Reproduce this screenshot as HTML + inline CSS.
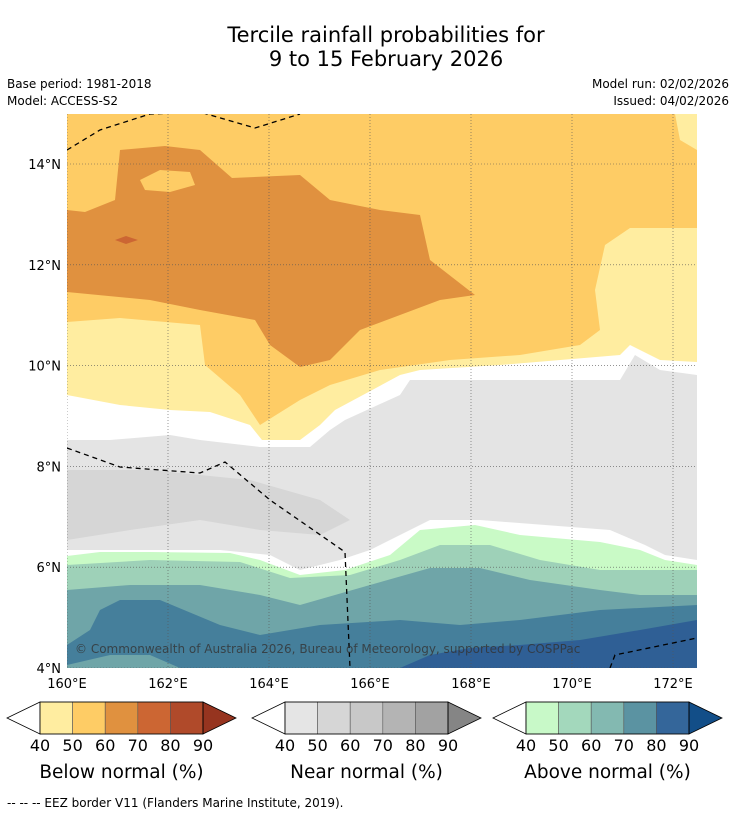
<!DOCTYPE html>
<html><head><meta charset="utf-8"><style>
body{margin:0;background:#fff;width:736px;height:816px;overflow:hidden;font-family:"DejaVu Sans","Liberation Sans",sans-serif}
svg{display:block}
</style></head><body>
<svg id="chart" width="736" height="816" viewBox="0 0 736 816" xmlns="http://www.w3.org/2000/svg" font-family="DejaVu Sans, Liberation Sans, sans-serif">
<text x="386" y="42" font-size="21" text-anchor="middle">Tercile rainfall probabilities for</text>
<text x="386" y="66" font-size="21" text-anchor="middle">9 to 15 February 2026</text>
<text x="7" y="88" font-size="12">Base period: 1981-2018</text>
<text x="7" y="105" font-size="12">Model: ACCESS-S2</text>
<text x="729" y="88" font-size="12" text-anchor="end">Model run: 02/02/2026</text>
<text x="729" y="105" font-size="12" text-anchor="end">Issued: 04/02/2026</text>
<clipPath id="mapclip"><rect x="67" y="114" width="630" height="554"/></clipPath>
<g id="map" clip-path="url(#mapclip)"></g>
<g id="axes"></g>
<g id="bars"></g>
<text x="7" y="807" font-size="12">--  --  -- EEZ border V11 (Flanders Marine Institute, 2019).</text>
</svg>
<script>
// Axis ranges
const lonTicks=[160,162,164,166,168,170,172];
const latTicks=[4,6,8,10,12,14];
const lonTickLabels=["160°E","162°E","164°E","166°E","168°E","170°E","172°E"];
const latTickLabels=["4°N","6°N","8°N","10°N","12°N","14°N"];
// Contour regions (pixel-estimated outlines expressed in lon/lat), painted in order
const regionColors=["#FFEDA0","#FECC65","#E0913F","#FECC65","#CC6633","#E4E4E4","#D6D6D6","#C9FAC6","#9ED1B8","#6FA5A8","#457F9B","#2F5F95"];
const regionNames=["below-40-50","below-50-60","below-60-70","below-50-60-island","below-70-80","near-40-50","near-50-60","above-40-50","above-50-60","above-60-70","above-70-80","above-80-90"];
const px=[
 [[67,114],[697,114],[697,362],[660,360],[630,345],[620,355],[500,365],[420,370],[400,375],[335,410],[320,425],[300,440],[262,440],[250,425],[210,412],[170,410],[120,405],[67,395]],
 [[67,114],[675,114],[680,140],[697,150],[697,228],[630,228],[605,245],[595,290],[600,330],[580,345],[520,355],[450,360],[380,370],[330,385],[300,400],[260,425],[240,395],[205,365],[200,325],[120,318],[67,322]],
 [[67,210],[85,212],[115,200],[120,150],[165,146],[200,150],[232,178],[300,175],[330,200],[380,210],[420,215],[430,260],[475,295],[440,300],[400,315],[360,330],[330,360],[300,367],[270,345],[255,320],[200,310],[150,300],[67,292]],
 [[140,180],[160,170],[190,172],[195,185],[170,192],[145,190]],
 [[115,240],[126,236],[138,240],[126,244]],
 [[67,440],[110,440],[170,435],[200,440],[260,447],[310,447],[330,430],[345,420],[400,395],[410,380],[620,380],[635,355],[660,370],[697,375],[697,560],[665,555],[645,545],[610,530],[480,520],[430,520],[400,535],[370,550],[340,560],[300,570],[270,555],[220,550],[67,550]],
 [[67,470],[150,470],[250,480],[320,500],[350,520],[320,535],[260,530],[200,520],[130,530],[67,540]],
 [[67,556],[100,552],[150,552],[230,553],[260,560],[300,575],[345,570],[390,555],[420,530],[475,525],[520,535],[600,542],[640,550],[665,560],[697,565],[697,668],[67,668]],
 [[67,565],[150,560],[240,562],[290,578],[350,575],[400,560],[440,545],[490,545],[540,560],[600,570],[697,570],[697,668],[67,668]],
 [[67,590],[130,585],[200,585],[260,595],[300,605],[370,585],[430,568],[480,568],[530,580],[600,590],[640,595],[697,595],[697,668],[67,668]],
 [[67,645],[90,630],[100,610],[120,600],[160,600],[220,625],[260,635],[320,625],[400,620],[460,625],[520,620],[560,615],[600,610],[697,605],[697,668],[180,668],[150,655],[110,655],[67,665]],
 [[400,668],[430,655],[470,648],[520,645],[580,640],[640,630],[697,620],[697,668]]
];
const eezLines=[
 [[67,150],[100,130],[150,114],[200,112],[255,128],[300,114]],
 [[67,448],[120,467],[200,473],[225,462],[270,500],[345,552],[350,668]],
 [[610,668],[615,655],[697,638]]
];
// axis functions
const X=lon=>67+(lon-160)*50.5;
const Y=lat=>668-(lat-4)*50.4;
const toLL=p=>[160+(p[0]-67)/50.5,4+(668-p[1])/50.4];
const NS="http://www.w3.org/2000/svg";
const mk=(t,a,par)=>{const e=document.createElementNS(NS,t);for(const k in a)e.setAttribute(k,a[k]);par.appendChild(e);return e;};
const map=document.getElementById('map');
mk('rect',{x:67,y:114,width:630,height:554,fill:'#fff'},map);
px.forEach((poly,i)=>{
 const pts=poly.map(toLL).map(ll=>X(ll[0]).toFixed(1)+','+Y(ll[1]).toFixed(1)).join(' ');
 const el=mk('polygon',{points:pts,fill:regionColors[i]},map);
 
 
});
// grid
lonTicks.forEach(l=>{const g=mk('line',{x1:X(l),x2:X(l),y1:114,y2:668,stroke:'#555','stroke-width':0.6,'stroke-dasharray':'1,2'},map);
 
 });
latTicks.forEach(l=>{const g=mk('line',{x1:67,x2:697,y1:Y(l),y2:Y(l),stroke:'#555','stroke-width':0.6,'stroke-dasharray':'1,2'},map);
 
 });
eezLines.forEach(line=>{const e=mk('polyline',{points:line.map(toLL).map(ll=>X(ll[0])+','+Y(ll[1])).join(' '),fill:'none',stroke:'#000','stroke-width':1.3,'stroke-dasharray':'5,4'},map);
 
 });
const cp=mk('text',{x:75,y:653,'font-size':12,fill:'#333','fill-opacity':0.8},map);
cp.textContent='© Commonwealth of Australia 2026, Bureau of Meteorology, supported by COSPPac';


const ax=document.getElementById('axes');
lonTicks.forEach((l,i)=>{const t=mk('text',{x:X(l),y:688,'font-size':13,'text-anchor':'middle'},ax);t.textContent=lonTickLabels[i];
 
 });
latTicks.forEach((l,i)=>{const t=mk('text',{x:61,y:Y(l)+5,'font-size':13,'text-anchor':'end'},ax);t.textContent=latTickLabels[i];
 
 });
// colorbars
const cbColors=[["#FFEDA0","#FECC65","#E0913F","#CC6633","#B04A2A","#96341F"],["#E5E5E5","#D6D6D6","#C8C8C8","#B4B4B4","#A2A2A2","#858585"],["#C8F9C8","#A3D8BC","#83B9B1","#5B93A2","#34669A","#124E88"]];
const cbTitles=["Below normal (%)","Near normal (%)","Above normal (%)"];
const cbTicks=["40","50","60","70","80","90"];
const cbStart=[40,285,526];
const bars=document.getElementById('bars');
cbStart.forEach((x0,b)=>{
 const w=32.6,y0=702,y1=734,ym=718,x1=x0+5*w;
 const g=mk('g',{},bars);
 
 
 mk('polygon',{points:`${x0},${y0} ${x0-33},${ym} ${x0},${y1}`,fill:'#fff',stroke:'#000','stroke-width':0.8},g);
 for(let i=0;i<5;i++)mk('rect',{x:x0+i*w,y:y0,width:w,height:y1-y0,fill:cbColors[b][i],stroke:'#555','stroke-width':0.6},g);
 mk('polygon',{points:`${x1},${y0} ${x1+33},${ym} ${x1},${y1}`,fill:cbColors[b][5],stroke:'#000','stroke-width':0.8},g);
 mk('rect',{x:x0,y:y0,width:5*w,height:y1-y0,fill:'none',stroke:'#000','stroke-width':0.8},g);
 cbTicks.forEach((t,i)=>{const e=mk('text',{x:x0+i*w,y:751,'font-size':16,'text-anchor':'middle'},g);e.textContent=t;});
 const tt=mk('text',{x:x0+2.5*w,y:778,'font-size':18.5,'text-anchor':'middle'},g);tt.textContent=cbTitles[b];
});
</script>
</body></html>
